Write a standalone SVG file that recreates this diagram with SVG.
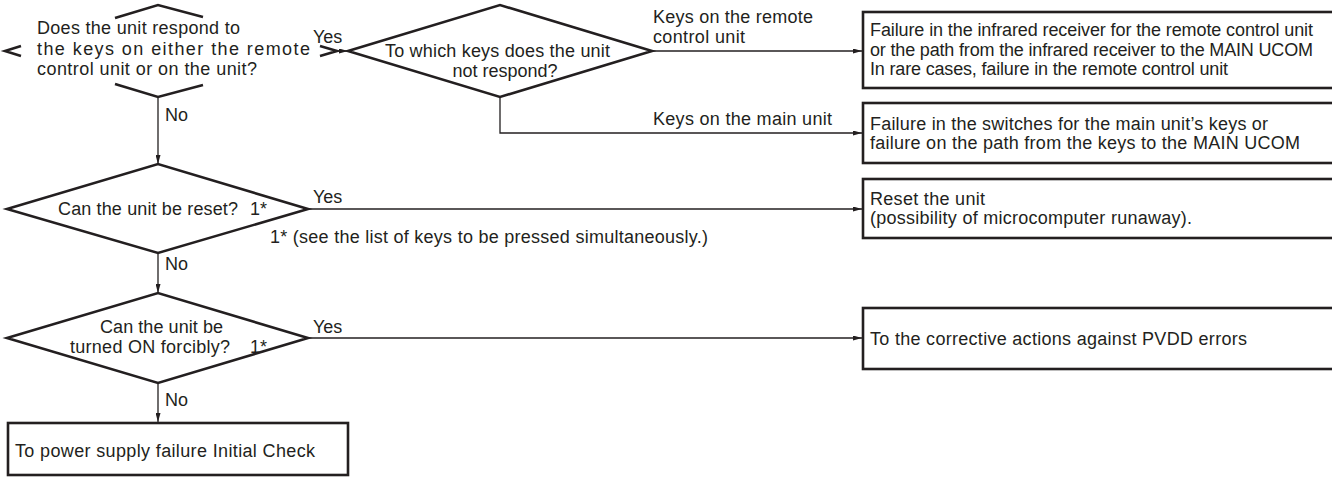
<svg xmlns="http://www.w3.org/2000/svg" width="1332" height="477" viewBox="0 0 1332 477">
<style>
text{font-family:"Liberation Sans",Arial,Helvetica,sans-serif;font-size:18px;fill:#231f20}
.shape{fill:none;stroke:#231f20;stroke-width:2.6;stroke-linejoin:miter}
.box{fill:#fff;stroke:#231f20;stroke-width:2.6}
.con{fill:none;stroke:#231f20;stroke-width:1.3}
.mid{text-anchor:middle}
</style>
<defs>
<marker id="ah" viewBox="0 0 9 5" refX="9" refY="2.5" markerWidth="9" markerHeight="5" markerUnits="userSpaceOnUse" orient="auto">
<path d="M0,0 L9,2.5 L0,5 Z" fill="#231f20"/>
</marker>
</defs>
<rect width="1332" height="477" fill="#fff"/>
<g id="connectors">
<line class="con" x1="337" y1="51" x2="348" y2="51" marker-end="url(#ah)"/>
<line class="con" x1="652" y1="51" x2="862" y2="51" marker-end="url(#ah)"/>
<polyline class="con" points="500,97 500,133 862,133" marker-end="url(#ah)"/>
<line class="con" x1="158" y1="97" x2="158" y2="164" marker-end="url(#ah)"/>
<line class="con" x1="308" y1="209" x2="862" y2="209" marker-end="url(#ah)"/>
<line class="con" x1="158" y1="253" x2="158" y2="293" marker-end="url(#ah)"/>
<line class="con" x1="308" y1="338" x2="862" y2="338" marker-end="url(#ah)"/>
<line class="con" x1="158" y1="383" x2="158" y2="422" marker-end="url(#ah)"/>
<text x="313" y="43">Yes</text>
<text x="653" y="23" textLength="160" lengthAdjust="spacing">Keys on the remote</text>
<text x="653" y="43" textLength="92" lengthAdjust="spacing">control unit</text>
<text x="653" y="125" textLength="179" lengthAdjust="spacing">Keys on the main unit</text>
<text x="165" y="121">No</text>
<text x="313" y="203">Yes</text>
<text x="270" y="243" textLength="438" lengthAdjust="spacing">1* (see the list of keys to be pressed simultaneously.)</text>
<text x="165" y="270">No</text>
<text x="313" y="333">Yes</text>
<text x="165" y="406">No</text>
</g>
<g id="q1">
<polyline class="shape" points="115,18 158,5 203,17"/>
<polyline class="shape" points="21,46 5,51 21,56"/>
<polyline class="shape" points="320,46 337,51 320,56"/>
<polyline class="shape" points="115,84 158,97 203,85"/>
<text x="37" y="34" textLength="203" lengthAdjust="spacing">Does the unit respond to</text>
<text x="37" y="55" textLength="273" lengthAdjust="spacing">the keys on either the remote</text>
<text x="37" y="75" textLength="220" lengthAdjust="spacing">control unit or on the unit?</text>
</g>
<g id="q2">
<polygon class="shape" points="348,51 500,5 652,51 500,97"/>
<text x="385" y="57" textLength="225" lengthAdjust="spacing">To which keys does the unit</text>
<text class="mid" x="505" y="77">not respond?</text>
</g>
<g id="r1">
<rect class="box" x="863" y="12" width="490" height="76"/>
<text x="870" y="36" textLength="443" lengthAdjust="spacing">Failure in the infrared receiver for the remote control unit</text>
<text x="870" y="56" textLength="443" lengthAdjust="spacing">or the path from the infrared receiver to the MAIN UCOM</text>
<text x="870" y="75" textLength="358" lengthAdjust="spacing">In rare cases, failure in the remote control unit</text>
</g>
<g id="r2">
<rect class="box" x="863" y="103" width="490" height="60"/>
<text x="870" y="130" textLength="398" lengthAdjust="spacing">Failure in the switches for the main unit’s keys or</text>
<text x="870" y="149" textLength="430" lengthAdjust="spacing">failure on the path from the keys to the MAIN UCOM</text>
</g>
<g id="q3">
<polygon class="shape" points="7,209 158,164 308,209 158,253"/>
<text x="58" y="215" textLength="180" lengthAdjust="spacing">Can the unit be reset?</text>
<text x="250" y="215">1*</text>
</g>
<g id="r3">
<rect class="box" x="863" y="179" width="490" height="59"/>
<text x="870" y="205" textLength="115" lengthAdjust="spacing">Reset the unit</text>
<text x="870" y="224" textLength="322" lengthAdjust="spacing">(possibility of microcomputer runaway).</text>
</g>
<g id="q4">
<polygon class="shape" points="7,338 158,293 308,338 158,383"/>
<text x="100" y="333" textLength="123" lengthAdjust="spacing">Can the unit be</text>
<text x="70" y="353" textLength="160" lengthAdjust="spacing">turned ON forcibly?</text>
<text x="250" y="353">1*</text>
</g>
<g id="r4">
<rect class="box" x="863" y="308" width="490" height="61"/>
<text x="870" y="345" textLength="377" lengthAdjust="spacing">To the corrective actions against PVDD errors</text>
</g>
<g id="r5">
<rect class="box" x="8" y="423" width="340" height="52"/>
<text x="15" y="457" textLength="300" lengthAdjust="spacing">To power supply failure Initial Check</text>
</g>
</svg>
